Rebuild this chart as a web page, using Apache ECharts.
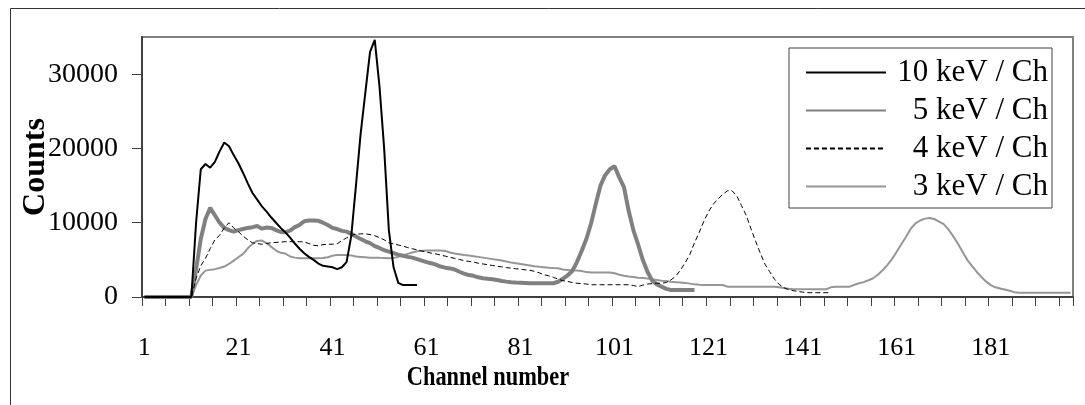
<!DOCTYPE html>
<html>
<head>
<meta charset="utf-8">
<script src="https://cdn.jsdelivr.net/npm/echarts@6/dist/echarts.min.js"></script>
<style>
html,body{margin:0;padding:0;background:#fff;}
#chart{width:1085px;height:405px;}
</style>
</head>
<body>
<div id="chart"></div>
<script>
// ---- data ----
const channelCount = 198;
const channels = Array.from({length: channelCount}, (_, i) => String(i + 1));
const seriesNames = ['10 keV / Ch', ' 5 keV / Ch', ' 4 keV / Ch', ' 3 keV / Ch'];
const yTicks = [0, 10000, 20000, 30000];
const xTitle = 'Channel number';
const yTitle = 'Counts';

const tenKeV = [
  0,0,0,0,0,0,0,0,0,0,0,
  10000,17200,17900,17400,18200,19600,20800,20300,19100,
  18000,16700,15300,14000,13100,12200,11500,10700,10000,9300,
  8700,8000,7200,6500,5900,5400,5000,4500,4200,4100,
  4000,3750,4000,4700,8200,15000,22000,27500,33000,34600,
  28400,20000,9000,4000,1900,1600,1600,1600,1600
];

const fiveKeV = [
  0,0,0,0,0,0,0,0,0,0,0,
  3700,7800,10500,12000,11000,10000,9300,9000,8800,
  9000,9150,9300,9400,9550,9200,9350,9300,9000,8750,
  8700,8950,9400,9700,10200,10300,10300,10250,10000,9700,
  9300,9150,8900,8800,8500,8150,7800,7500,7250,6850,
  6600,6300,6100,5900,5700,5550,5400,5300,5100,4900,
  4700,4550,4350,4100,3950,3850,3700,3400,3150,2950,
  2850,2650,2520,2450,2400,2300,2150,2070,2000,1950,
  1930,1900,1850,1850,1850,1850,1850,1850,2050,2450,
  2900,3500,4700,6200,7800,9900,12500,15000,16400,17200,
  17600,16100,14800,11600,9000,7100,5000,3400,2200,1700,
  1400,1100,950,950,950,950,950,950
];

const fourKeV = [
  0,0,0,0,0,0,0,0,0,0,0,
  2500,4200,5200,6500,7700,8300,9300,10000,9300,
  8800,8200,7700,7300,7200,7100,7200,7300,7350,7400,
  7450,7450,7450,7450,7400,7200,6950,6900,7050,7100,
  7100,7150,7600,7950,8300,8450,8500,8500,8400,8250,
  8000,7700,7300,7150,7000,6850,6650,6500,6350,6200,
  6050,5900,5800,5650,5500,5350,5200,5050,4900,4800,
  4700,4550,4450,4350,4250,4150,4050,3950,3900,3800,
  3750,3650,3600,3450,3250,3000,2850,2650,2400,2200,
  2100,1950,1850,1800,1750,1650,1650,1650,1650,1650,
  1650,1650,1650,1650,1550,1400,1600,1750,1800,1850,
  1850,1950,2300,2800,3600,4600,5700,7300,8700,10200,
  11500,12500,13200,13800,14300,14300,13600,12300,11000,9200,
  7500,5900,4400,3400,2400,1700,1250,1000,850,750,
  650,580,580,580,580,580,580
];

const threeKeV = [
  0,0,0,0,0,0,0,0,0,0,0,
  1600,2900,3550,3650,3750,3900,4100,4450,4900,
  5350,5800,6550,7150,7550,7600,7250,6750,6250,5950,
  5850,5450,5300,5220,5220,5220,5220,5220,5250,5350,
  5550,5670,5670,5670,5600,5450,5400,5350,5300,5300,
  5270,5250,5220,5250,5400,5600,5800,6000,6150,6200,
  6250,6250,6250,6250,6200,6000,5850,5750,5650,5600,
  5500,5400,5300,5200,5100,5000,4900,4770,4650,4550,
  4450,4350,4250,4150,4080,4020,3950,3900,3870,3700,
  3650,3600,3570,3500,3350,3290,3290,3290,3290,3290,
  3200,3000,2850,2750,2700,2600,2550,2500,2400,2300,
  2200,2150,2050,2000,1950,1900,1800,1700,1650,1620,
  1620,1620,1620,1620,1390,1390,1390,1390,1390,1390,
  1390,1390,1390,1390,1390,1300,1200,1100,1040,1040,
  1040,1040,1040,1040,1040,1040,1300,1390,1390,1390,
  1390,1650,1850,2000,2250,2520,3000,3600,4300,5100,
  6100,7100,8100,9200,9900,10300,10550,10630,10500,10150,
  9800,9100,8200,7200,6100,5000,4200,3400,2700,2100,
  1600,1300,1150,1000,850,650,580,580,580,580,
  580,580,580,580,580,580,580,580
];

// ---- chart ----
const FONT = "'Liberation Serif', 'Times New Roman', serif";
const chart = echarts.init(document.getElementById('chart'), null, {renderer: 'canvas'});

chart.setOption({
  animation: false,
  backgroundColor: '#ffffff',
  graphic: [
    {
      type: 'rect',
      shape: {x: 10.5, y: 8.5, width: 1100, height: 430},
      style: {fill: 'none', stroke: '#333333', lineWidth: 1},
      silent: true, z: -10
    },
    {
      type: 'text',
      x: 488, y: 378,
      scaleX: 0.8, scaleY: 1,
      style: {
        text: xTitle,
        font: "bold 28px 'Liberation Serif', 'Times New Roman', serif",
        fill: '#000',
        align: 'center',
        verticalAlign: 'middle'
      },
      silent: true
    }
  ],
  grid: {
    left: 142, top: 37, right: 12, bottom: 108,
    outerBoundsMode: 'none',
    containLabel: false,
    show: true, borderColor: '#808080', borderWidth: 2, backgroundColor: 'transparent'
  },
  legend: {
    orient: 'vertical',
    left: 789, top: 48,
    padding: [9, 4, 6, 16],
    itemGap: 7,
    itemWidth: 80, itemHeight: 14,
    backgroundColor: '#ffffff',
    borderColor: '#404040', borderWidth: 1,
    data: seriesNames,
    itemStyle: {opacity: 0},
    formatter: function (name) { return '{n|' + name.trim() + '}'; },
    textStyle: {
      fontFamily: FONT, color: '#000',
      rich: {n: {fontFamily: FONT, fontSize: 31, width: 157, align: 'right', color: '#000'}}
    }
  },
  xAxis: {
    type: 'category',
    data: channels,
    boundaryGap: true,
    axisLine: {lineStyle: {color: '#404040', width: 2}},
    axisTick: {show: true, interval: 4, length: 9, inside: false, lineStyle: {color: '#404040', width: 1}},
    axisLabel: {interval: 19, margin: 38, fontFamily: FONT, fontSize: 26, color: '#000'},
    splitLine: {show: false}
  },
  yAxis: {
    type: 'value',
    min: 0, max: 35000, interval: 10000,
    name: yTitle,
    nameLocation: 'middle',
    nameRotate: 90,
    nameGap: 90,
    nameMoveOverlap: false,
    nameTextStyle: {fontFamily: FONT, fontSize: 32, fontWeight: 'bold', color: '#000'},
    axisLine: {show: true, lineStyle: {color: '#404040', width: 2}},
    axisTick: {show: true, length: 10, inside: false, customValues: yTicks, lineStyle: {color: '#404040', width: 1}},
    axisLabel: {margin: 24, fontFamily: FONT, fontSize: 28, color: '#000', customValues: yTicks,
                formatter: function (v) { return String(v); }},
    splitLine: {show: false}
  },
  series: [
    {name: seriesNames[0], type: 'line', data: tenKeV, symbol: 'none', smooth: false,
     lineStyle: {color: '#000000', width: 2}, itemStyle: {color: '#000000'}, z: 5},
    {name: seriesNames[1], type: 'line', data: fiveKeV, symbol: 'none', smooth: false,
     lineStyle: {color: '#808080', width: 4}, itemStyle: {color: '#808080'}, z: 3},
    {name: seriesNames[2], type: 'line', data: fourKeV, symbol: 'none', smooth: false,
     lineStyle: {color: '#000000', width: 1, type: [5, 3]}, itemStyle: {color: '#000000'}, z: 4},
    {name: seriesNames[3], type: 'line', data: threeKeV, symbol: 'none', smooth: false,
     lineStyle: {color: '#969696', width: 2}, itemStyle: {color: '#969696'}, z: 2}
  ]
});
</script>
</body>
</html>
